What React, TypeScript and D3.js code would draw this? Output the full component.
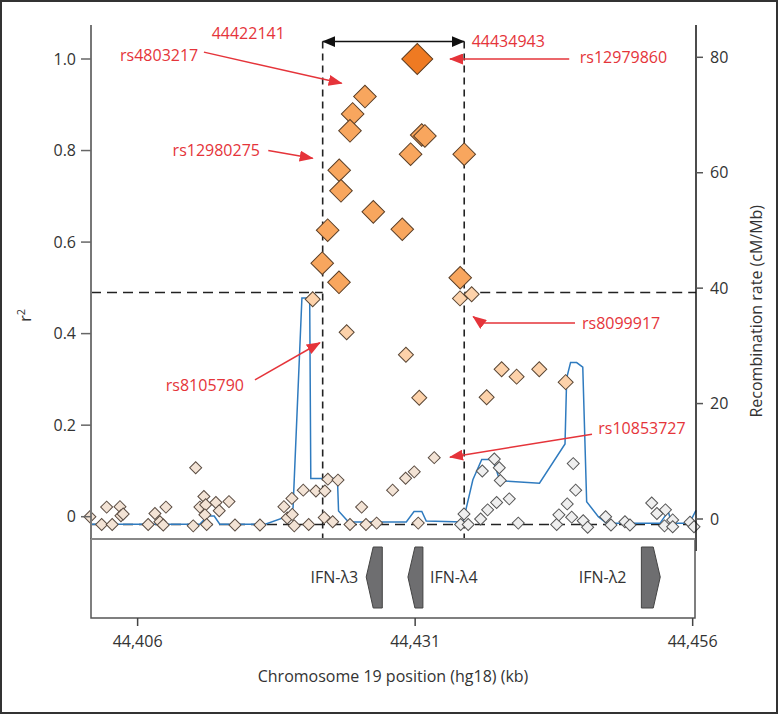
import React from "react";
import * as d3 from "d3";

// SNP位置 (kb, hg18) と r2
const topSnp: [number, number][] = [[44431.19, 1.0]];
const highSnps: [number, number][] = [
  [44426.48, 0.918], [44425.37, 0.88], [44425.13, 0.843], [44424.16, 0.757],
  [44424.32, 0.712], [44427.23, 0.666], [44423.12, 0.626], [44429.84, 0.628],
  [44422.63, 0.554], [44424.14, 0.512], [44435.06, 0.522], [44430.59, 0.792],
  [44431.59, 0.834], [44431.88, 0.832], [44435.42, 0.792],
];
const midSnps: [number, number][] = [
  [44421.77, 0.475], [44435.04, 0.477], [44436.09, 0.486], [44424.83, 0.403],
  [44430.17, 0.354], [44431.37, 0.26], [44438.79, 0.322], [44440.14, 0.306],
  [44442.18, 0.322], [44437.44, 0.261], [44444.56, 0.294],
];
const lowSnps: [number, number][] = [
  [44401.7, 0.0], [44402.76, -0.017], [44403.21, 0.021], [44403.71, -0.017],
  [44404.41, 0.022], [44404.5, 0.002], [44404.7, 0.006], [44406.95, -0.017],
  [44407.56, 0.007], [44408.01, -0.011], [44408.55, 0.021], [44408.31, -0.018],
  [44411.23, 0.107], [44411.01, -0.02], [44411.97, 0.044], [44411.61, 0.021],
  [44412.13, 0.026], [44412.06, 0.004], [44413.05, 0.031], [44413.35, 0.013],
  [44414.23, 0.033], [44412.22, -0.017], [44414.77, -0.018], [44417.02, -0.018],
  [44419.18, 0.022], [44419.9, 0.04], [44419.48, -0.003], [44419.93, 0.005],
  [44420.11, -0.02], [44420.92, 0.058], [44421.41, -0.017], [44422.06, 0.056],
  [44422.87, 0.056], [44423.14, 0.082], [44424.05, 0.08], [44422.81, -0.002],
  [44423.57, -0.011], [44425.13, -0.017], [44426.57, -0.017], [44427.53, -0.014],
  [44431.28, -0.014], [44426.18, 0.021], [44428.97, 0.058], [44430.14, 0.084],
  [44430.92, 0.098], [44432.72, 0.129],
];
const nullSnps: [number, number][] = [
  [44435.1, -0.017], [44435.4, 0.006], [44435.78, -0.017], [44436.9, -0.005],
  [44437.53, 0.015], [44438.34, 0.031], [44439.48, 0.039], [44437.05, 0.1],
  [44438.13, 0.126], [44438.58, 0.107], [44438.67, 0.079], [44440.29, -0.014],
  [44443.75, -0.017], [44443.95, 0.004], [44444.7, 0.028], [44445.1, -0.001],
  [44445.24, 0.116], [44445.46, 0.058], [44446.14, -0.009], [44446.54, -0.023],
  [44448.16, 0.0], [44448.64, -0.018], [44449.9, -0.011], [44450.35, -0.018],
  [44452.31, 0.03], [44452.78, 0.007], [44453.55, 0.015], [44453.46, -0.02],
  [44454.2, -0.007], [44454.2, -0.022], [44455.76, -0.012], [44456.12, -0.022],
];

// 組換え率 (cM/Mb)
const recombPos = [
  44401.8, 44411.6, 44412.3, 44412.9, 44413.4, 44417.5, 44419.4, 44420.0,
  44420.8, 44421.5, 44421.6, 44424.0, 44424.1, 44425.0, 44430.2, 44430.9,
  44431.6, 44432.0, 44435.3, 44435.6, 44436.2, 44437.0, 44438.0, 44438.6,
  44438.9, 44442.2, 44444.5, 44444.65, 44445.0, 44445.55, 44446.1, 44446.45,
  44447.5, 44448.25, 44453.05, 44453.8, 44454.1, 44455.7, 44456.3,
];
const recombRate = [
  -0.9, -0.9, 0.5, 0.5, -0.9, -0.9, 0.4, 1.9, 38.3, 38.3, 7.0, 7.0, 1.4, -0.5,
  -0.5, 1.3, 1.3, -0.35, -0.5, 1.85, 6.8, 10.3, 10.3, 6.8, 6.6, 6.2, 13.0, 24.4,
  27.1, 27.1, 26.3, 3.0, 0.4, -0.75, -0.75, 1.3, -0.75, -0.75, 1.5,
];

// 遺伝子
const geneNames = ["IFN-λ3", "IFN-λ4", "IFN-λ2"];
const geneStart = [44426.59, 44430.35, 44451.38];
const geneEnd = [44428.04, 44431.7, 44453.08];
const geneStrand = ["-", "-", "+"];
const geneLabelSide = ["left", "right", "left"];
const geneLabelGap = [8, 7, 15];

const r2Ticks = [0, 0.2, 0.4, 0.6, 0.8, 1.0];
const rateTicks = [0, 20, 40, 60, 80];
const posTicks = [44406, 44431, 44456];

// 領域
const regionStart = 44422.67;
const regionEnd = 44435.42;
const regionTop = 1.038;
const r2Cut = 0.49;
const r2Floor = -0.017;

// 注釈 (kb, r2)
const annoNames = ["rs4803217", "rs12980275", "rs12979860", "rs8099917", "rs8105790", "rs10853727"];
const annoText: [number, number, string][] = [
  [44411.46, 1.007, "end"], [44417.02, 0.8, "end"], [44445.83, 1.004, "start"],
  [44446.03, 0.423, "start"], [44415.58, 0.286, "end"], [44447.5, 0.192, "start"],
];
const annoArrow: [number, number][][] = [
  [[44411.97, 1.015], [44424.38, 0.947]],
  [[44417.77, 0.8], [44421.77, 0.783]],
  [[44444.88, 1.0], [44434.14, 1.0]],
  [[44445.4, 0.423], [44437.0, 0.423], [44436.23, 0.437]],
  [[44416.57, 0.299], [44422.42, 0.38]],
  [[44446.93, 0.18], [44434.14, 0.13]],
];
const boundNames = ["44422141", "44434943"];
const boundText: [number, number][] = [[44412.67, 1.055], [44436.09, 1.038]];

const W = 778, H = 714;
const plotL = 91, plotR = 696, plotT = 25, plotB = 539, geneB = 618;
const font = "'Open Sans', 'Noto Sans', sans-serif";
const red = "#e5343a";

export default function App() {
  const x = d3.scaleLinear().domain([44401.8, 44456.3]).range([plotL, plotR]);
  const y = d3.scaleLinear().domain([0, 1]).range([516.7, 59]);
  const yRate = d3.scaleLinear().domain([0, 80]).range([519, 57.3]);

  const recombLine = d3
    .line<number>()
    .x((d, i) => x(recombPos[i]))
    .y((d) => yRate(d))(recombRate);

  const diamond = (h: number) =>
    d3.symbol().type(d3.symbolSquare).size(2 * h * h)() as string;

  const groups = [
    { data: lowSnps, h: 6, fill: "#f3e3d5", stroke: "#5a4c42" },
    { data: nullSnps, h: 6, fill: "#efefef", stroke: "#555" },
    { data: midSnps, h: 7.5, fill: "#fdd2aa", stroke: "#5a4634" },
    { data: highSnps, h: 11.3, fill: "#f8a65e", stroke: "#5a3e26" },
    { data: topSnp, h: 15.5, fill: "#ef7a22", stroke: "#5a3a1e" },
  ];

  const geneMid = (plotB + geneB) / 2 - 1.5;
  const geneTop = 547, geneBot = 608, tipLen = 7;

  const arrowPath = d3
    .line<[number, number]>()
    .x((d) => x(d[0]))
    .y((d) => y(d[1]));

  return (
    <div style={{ position: "absolute", left: 0, top: 0 }}>
      <svg width={W} height={H} style={{ display: "block", fontFamily: font }}>
        <defs>
          <marker id="redHead" viewBox="0 0 14 11" refX="13" refY="5.5" markerWidth="14" markerHeight="11" markerUnits="userSpaceOnUse" orient="auto">
            <path d="M0,0 L14,5.5 L0,11 Z" fill={red} />
          </marker>
          <marker id="blackHead" viewBox="0 0 13 11" refX="12.5" refY="5.5" markerWidth="13" markerHeight="11" markerUnits="userSpaceOnUse" orient="auto-start-reverse">
            <path d="M0,0 L13,5.5 L0,11 Z" fill="#111" />
          </marker>
        </defs>
        <rect x={1} y={1} width={W - 2} height={H - 2} fill="#fff" stroke="#333" strokeWidth={2} />

        {/* 破線 */}
        <g stroke="#222" strokeWidth={1.6} fill="none">
          <g strokeDasharray="7,5">
            <line x1={x(regionStart)} x2={x(regionStart)} y1={y(regionTop)} y2={plotB} />
            <line x1={x(regionEnd)} x2={x(regionEnd)} y1={y(regionTop)} y2={plotB} />
          </g>
          <g strokeDasharray="10,6">
            <line x1={plotL} x2={x(regionStart)} y1={y(r2Cut)} y2={y(r2Cut)} />
            <line x1={x(regionEnd)} x2={plotR} y1={y(r2Cut)} y2={y(r2Cut)} />
            <line x1={plotL} x2={plotR} y1={y(r2Floor)} y2={y(r2Floor)} />
          </g>
        </g>

        {/* 組換え率 */}
        <path d={recombLine || ""} fill="none" stroke="#2f7bbf" strokeWidth={1.5} />

        {/* SNP */}
        {groups.map((g, gi) => (
          <g key={gi}>
            {g.data.map((d, i) => (
              <path
                key={i}
                d={diamond(g.h)}
                transform={`translate(${x(d[0])},${y(d[1])}) rotate(45)`}
                fill={g.fill}
                stroke={g.stroke}
                strokeWidth={1}
              />
            ))}
          </g>
        ))}

        {/* 左軸 */}
        <line x1={plotL} x2={plotL} y1={plotT} y2={plotB} stroke="#777" strokeWidth={2} />
        {r2Ticks.map((t) => (
          <g key={t}>
            <line x1={plotL - 10} x2={plotL} y1={y(t)} y2={y(t)} stroke="#666" strokeWidth={1.5} />
            <text x={plotL - 15} y={y(t)} dy="0.35em" textAnchor="end" fontSize={16} fill="#333">
              {t === 0 ? "0" : t.toFixed(1)}
            </text>
          </g>
        ))}
        <text transform={`translate(31,${y(0.44)}) rotate(-90)`} textAnchor="middle" fontSize={16} fill="#333">
          r<tspan fontSize={11} dy="-6">2</tspan>
        </text>

        {/* 右軸 */}
        <line x1={plotR} x2={plotR} y1={plotT} y2={plotB + 12} stroke="#111" strokeWidth={1.5} />
        {rateTicks.map((t) => (
          <g key={t}>
            <line x1={plotR} x2={plotR + 7} y1={yRate(t)} y2={yRate(t)} stroke="#555" strokeWidth={1.5} />
            <text x={plotR + 14} y={yRate(t)} dy="0.35em" fontSize={16} fill="#333">
              {t}
            </text>
          </g>
        ))}
        <text transform={`translate(762,${yRate(36)}) rotate(-90)`} textAnchor="middle" fontSize={16} fill="#333">
          Recombination rate (cM/Mb)
        </text>

        {/* 遺伝子パネル */}
        <rect x={plotL} y={plotB} width={plotR - 1 - plotL} height={geneB - plotB} fill="none" stroke="#555" strokeWidth={1.5} />
        <line x1={plotL} x2={plotR - 1} y1={plotB} y2={plotB} stroke="#888" strokeWidth={2} />
        {geneNames.map((name, i) => {
          const s = x(geneStart[i]), e = x(geneEnd[i]);
          const pts =
            geneStrand[i] === "-"
              ? [[s, geneMid], [s + tipLen, geneTop], [e, geneTop], [e, geneBot], [s + tipLen, geneBot]]
              : [[s, geneTop], [e - tipLen, geneTop], [e, geneMid], [e - tipLen, geneBot], [s, geneBot]];
          const left = geneLabelSide[i] === "left";
          return (
            <g key={name}>
              <polygon points={pts.map((p) => p.join(",")).join(" ")} fill="#6e6e70" stroke="#444" strokeWidth={1} />
              <text
                x={left ? s - geneLabelGap[i] : e + geneLabelGap[i]}
                y={geneMid}
                dy="0.35em"
                textAnchor={left ? "end" : "start"}
                fontSize={16}
                fill="#333"
              >
                {name}
              </text>
            </g>
          );
        })}

        {/* x軸 */}
        {posTicks.map((t) => (
          <g key={t}>
            <line x1={x(t)} x2={x(t)} y1={geneB} y2={geneB + 8} stroke="#444" strokeWidth={1.5} />
            <text x={x(t)} y={641} dy="0.35em" textAnchor="middle" fontSize={16} fill="#333">
              {d3.format(",")(t)}
            </text>
          </g>
        ))}
        <text x={393} y={676} dy="0.35em" textAnchor="middle" fontSize={16} fill="#333">
          Chromosome 19 position (hg18) (kb)
        </text>

        {/* 範囲の矢印 */}
        <line
          x1={x(regionStart)}
          x2={x(regionEnd)}
          y1={y(regionTop)}
          y2={y(regionTop)}
          stroke="#111"
          strokeWidth={1.5}
          markerStart="url(#blackHead)"
          markerEnd="url(#blackHead)"
        />
        {boundNames.map((n, i) => (
          <text key={n} x={x(boundText[i][0])} y={y(boundText[i][1])} dy="0.35em" fontSize={16} fill={red}>
            {n}
          </text>
        ))}

        {/* 注釈 */}
        {annoNames.map((n, i) => (
          <g key={n}>
            <path d={arrowPath(annoArrow[i]) || ""} fill="none" stroke={red} strokeWidth={1.5} markerEnd="url(#redHead)" />
            <text
              x={x(annoText[i][0])}
              y={y(annoText[i][1])}
              dy="0.35em"
              textAnchor={annoText[i][2] as any}
              fontSize={16}
              fill={red}
            >
              {n}
            </text>
          </g>
        ))}
      </svg>
    </div>
  );
}
